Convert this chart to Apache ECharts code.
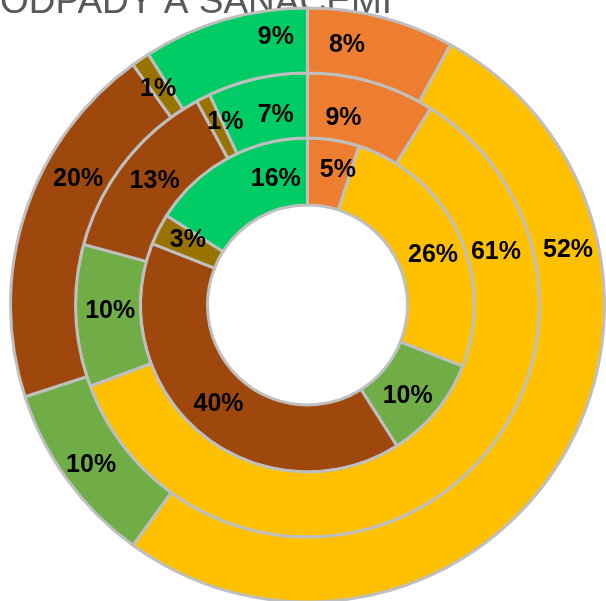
<!DOCTYPE html>
<html>
<head>
<meta charset="utf-8">
<script src="https://cdn.jsdelivr.net/npm/echarts@6/dist/echarts.min.js"></script>
<style>
  html, body { margin: 0; padding: 0; background: #fff; }
  #chart { width: 606px; height: 601px; }
</style>
</head>
<body>
<div id="chart"></div>
<script>
// kategorie (stejne poradi ve vsech trech prstencich)
var categories = ["A", "B", "C", "D", "E", "F"];
// hodnoty v % - vnitrni, prostredni, vnejsi prstenec
var innerValues = [5, 26, 10, 40, 3, 16];
var middleValues = [9, 61, 10, 13, 1, 7];
var outerValues = [8, 52, 10, 20, 1, 9];

var colors = ["#ED7D31", "#FFC000", "#70AD47", "#9E480E", "#997300", "#00CC66"];
var cx = 307.5, cy = 305;
var rings = [[100, 167], [167, 232], [232, 297]];

// rucni posun stitku (jako v originale) - "serie-polozka": [dx, dy]
var labelNudge = {
  "0-0": [9, 0], "0-1": [2, 8], "0-2": [-5, 4], "0-3": [-2, -6], "0-4": [2, -3], "0-5": [34, -6],
  "1-0": [-20, 8], "1-1": [-3, 3], "1-2": [5, -3], "1-3": [6, 2], "1-4": [9, -2], "1-5": [12, 8],
  "2-0": [-27, -1], "2-1": [2, 1], "2-2": [0, 3], "2-3": [25, -43], "2-4": [1, 5], "2-5": [43, -11]
};

function toData(values) {
  return values.map(function (v, i) {
    return { name: categories[i], value: v, itemStyle: { color: colors[i] } };
  });
}

function makeSeries(values, idx) {
  return {
    type: "pie",
    center: [cx, cy],
    radius: rings[idx],
    startAngle: 90,
    clockwise: true,
    avoidLabelOverlap: false,
    silent: true,
    itemStyle: {
      borderColor: "#BFBFBF",
      borderWidth: 3
    },
    label: {
      show: true,
      position: "inside",
      formatter: "{c}%",
      color: "#000",
      fontSize: 25,
      fontWeight: "bold",
      fontFamily: "'Liberation Sans', Arial, sans-serif"
    },
    labelLine: { show: false },
    labelLayout: function (params) {
      var n = labelNudge[params.seriesIndex + "-" + params.dataIndex] || [0, 0];
      // zlute stitky prstencu 2 a 3 jsou v originale posunute vedle 26%
      if (params.dataIndex === 1 && params.seriesIndex > 0) {
        var rMid = (rings[params.seriesIndex][0] + rings[params.seriesIndex][1]) / 2;
        var up = 56;
        return { x: cx + Math.sqrt(rMid * rMid - up * up) + n[0], y: cy - up + n[1] };
      }
      return { dx: n[0], dy: n[1] };
    },
    data: toData(values)
  };
}

var option = {
  animation: false,
  backgroundColor: "#fff",
  graphic: [
    {
      type: "text",
      x: 0,
      y: 3,
      style: {
        text: "ODPADY A SANACEMI",
        fill: "#595959",
        font: "37px 'Liberation Sans', Arial, sans-serif",
        align: "left",
        verticalAlign: "middle"
      }
    }
  ],
  series: [
    makeSeries(innerValues, 0),
    makeSeries(middleValues, 1),
    makeSeries(outerValues, 2)
  ]
};

var chart = echarts.init(document.getElementById("chart"));
chart.setOption(option);
</script>
</body>
</html>
